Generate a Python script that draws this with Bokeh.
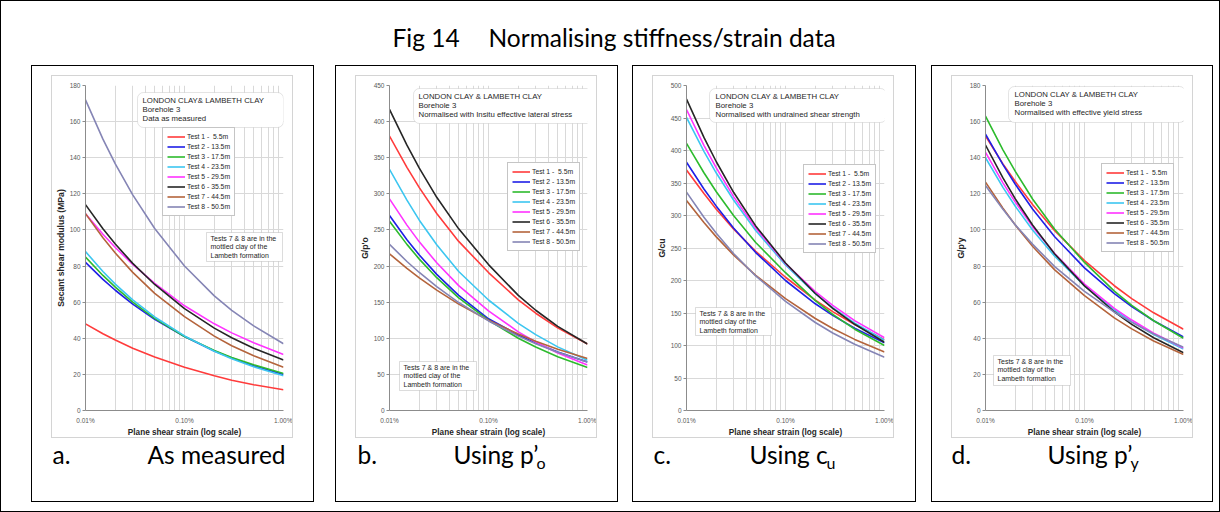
from bokeh.plotting import figure
from bokeh.models import (Range1d, FixedTicker, PrintfTickFormatter, BoxAnnotation, Label,
                          Legend, LegendItem, Spacer)
from bokeh.layouts import column, row
from bokeh.embed import file_html
from bokeh.resources import INLINE

# ---------------- data ----------------
strain_pct = [0.01, 0.015, 0.02, 0.03, 0.05, 0.1, 0.2, 0.3, 0.5, 1.0]
x_major_ticks = [0.01, 0.1, 1.0]
x_minor_ticks = [0.02, 0.03, 0.04, 0.05, 0.06, 0.07, 0.08, 0.09,
                 0.2, 0.3, 0.4, 0.5, 0.6, 0.7, 0.8, 0.9]
test_labels = ["Test 1 -  5.5m", "Test 2 - 13.5m", "Test 3 - 17.5m", "Test 4 - 23.5m",
               "Test 5 - 29.5m", "Test 6 - 35.5m", "Test 7 - 44.5m", "Test 8 - 50.5m"]

# a. as measured: secant shear modulus (MPa)
G_measured = [
    [48, 42.5, 39.0, 34.5, 29.6, 24, 19.2, 16.8, 14.3, 11.5],
    [82, 72.6, 66.6, 58.9, 50.5, 41, 33.0, 29.1, 24.8, 20],
    [85, 74.8, 68.3, 60.0, 51.0, 41, 33.3, 29.4, 25.3, 20.5],
    [88, 77.0, 70.0, 61.3, 51.8, 41.3, 32.8, 28.7, 24.2, 19.3],
    [109, 97.6, 90.3, 80.9, 70.4, 58, 48.0, 43.0, 37.5, 31],
    [114, 100.7, 92.2, 81.5, 69.8, 56.4, 45.6, 40.3, 34.5, 28],
    [109, 95.7, 87.2, 76.5, 64.9, 52, 41.2, 35.9, 30.3, 24],
    [172, 150.3, 136.6, 119.4, 100.8, 80, 63.5, 55.5, 46.9, 37],
]
# b. G / p'o
G_over_po = [
    [380, 336.7, 308.6, 272.8, 234.1, 191, 153.2, 134.7, 114.4, 92],
    [270, 236.3, 215.2, 188.5, 159.3, 127, 104.6, 93.5, 81.0, 67],
    [262, 230.0, 209.6, 183.9, 155.9, 125, 100.0, 87.8, 74.4, 59.5],
    [334, 291.2, 263.5, 229.5, 192.4, 153, 120.7, 105.1, 88.1, 69.5],
    [293, 256.7, 233.5, 204.5, 172.9, 138, 108.9, 94.8, 79.5, 63],
    [417, 367.4, 335.7, 295.2, 251.5, 202, 159.4, 138.8, 116.4, 92],
    [217, 196.8, 183.6, 166.7, 147.3, 125, 105.8, 96.0, 84.9, 72],
    [230, 206.3, 191.1, 171.6, 149.5, 124, 103.0, 92.5, 80.6, 67],
]
# c. G / cu
G_over_cu = [
    [370, 333.7, 309.7, 279.0, 244.9, 205, 169.7, 152.1, 132.4, 109],
    [382, 340.7, 314.4, 280.4, 243.0, 200, 164.2, 146.4, 126.6, 104],
    [411, 365.8, 336.6, 299.6, 258.5, 212, 169.0, 148.0, 125.1, 100],
    [451, 398.7, 365.3, 323.4, 276.9, 224, 179.9, 158.1, 134.4, 108],
    [463, 407.9, 373.2, 328.7, 280.6, 226, 182.8, 161.6, 138.3, 112],
    [479, 420.1, 382.7, 335.3, 284.0, 227, 180.0, 157.1, 132.6, 105],
    [323, 289.1, 267.1, 239.0, 208.0, 172, 141.6, 126.2, 109.4, 90],
    [336, 297.4, 272.8, 241.2, 207.0, 168, 135.4, 119.3, 101.8, 82],
]
# d. G / p'y
G_over_py = [
    [152, 136.6, 126.8, 114.0, 99.6, 83, 69.1, 62.0, 54.1, 45],
    [153, 136.2, 125.3, 111.5, 96.2, 79, 64.7, 57.6, 49.7, 40.7],
    [163, 144.4, 132.4, 117.0, 100.4, 82, 66.1, 58.2, 49.7, 40],
    [140, 123.6, 113.1, 99.8, 85.4, 69, 55.8, 49.2, 42.1, 34],
    [143, 126.1, 115.4, 101.7, 86.9, 70, 56.6, 50.1, 42.8, 34.6],
    [147, 128.8, 117.2, 102.6, 86.7, 69, 54.7, 47.7, 40.3, 32],
    [126.5, 112.1, 102.7, 90.8, 77.9, 63.6, 51.3, 45.2, 38.5, 31],
    [124.6, 111.4, 102.8, 92.0, 79.7, 66, 54.5, 48.8, 42.4, 35],
]

title_left = "Fig 14"
title_right = "Normalising stiffness/strain data"
y_titles = ["Secant shear modulus (MPa)", "G/p'o", "G/cu", "G/p'y"]
x_title = "Plane shear strain (log scale)"
info_lines = [
    ["LONDON CLAY& LAMBETH CLAY", "Borehole 3", "Data as measured"],
    ["LONDON CLAY & LAMBETH CLAY", "Borehole 3", "Normalised with Insitu effective lateral stress"],
    ["LONDON CLAY & LAMBETH CLAY", "Borehole 3", "Normalised with undrained shear strength"],
    ["LONDON CLAY & LAMBETH CLAY", "Borehole 3", "Normalised with effective yield stress"],
]
note_lines = ["Tests 7 & 8 are in the", "mottled clay of the", "Lambeth formation"]
cap_letters = ["a.", "b.", "c.", "d."]
cap_main = ["As measured", "Using p\u2019", "Using c", "Using p\u2019"]
cap_sub = ["", "o", "u", "y"]

# ---------------- styling / layout ----------------
series_colors = ["#ff3b3b", "#1f1fe6", "#2dbb2d", "#3cc6f0", "#ff33ff", "#262626", "#b4643c", "#8585b5"]
CHART_FONT = "Liberation Sans"
CAP_FONT = "Lato"
PANEL_X = [31, 335, 632, 931]        # page x of panel boxes
PANEL_W = [283, 283, 284, 282]
PANEL_Y = 65
PANEL_H = 437
TOP_GAP, LEFT_GAP = 9, 19            # inside panel (after its 1px border)
CH_W, CH_H = 242, 363                # chart canvas (inside its grey border)
CB_L, CB_R, CB_T, CB_B = 28, 11, 9, 26   # chart canvas borders around frame
FH = CH_H - CB_T - CB_B
CAP_H = PANEL_H - 2 - TOP_GAP - (CH_H + 2)
CAP_BASELINE_UP = 33                 # caption baseline above caption strip bottom
y_max = [180, 450, 500, 180]
y_step = [20, 50, 50, 20]
info_box = [(132, 95, 278, 130), (408, 91, 590, 126), (704, 91, 881, 125), (1003, 89, 1180, 125)]
info_text_x = [137, 413, 710, 1009]
note_box = [(201, 235, 277, 264), (394, 364, 471, 393), (690, 310, 766, 338), (988, 358, 1065, 388)]
legend_topleft = [(157, 132), (502, 167), (798, 169), (1096, 168)]
LEG_H = 87
cap_x = [(52, 147, None), (357, 453, 536), (653, 749, 826), (951, 1047, 1130)]


def box(l, t, r, b, fl, ft, **kw):
    # positions measured from the frame's top-left, converted to Bokeh screen units
    return BoxAnnotation(left=l - fl, right=r - fl, top=FH - (t - ft), bottom=FH - (b - ft),
                         left_units="screen", right_units="screen",
                         top_units="screen", bottom_units="screen", **kw)


def lab(text, x, y, fl, ft, **kw):
    return Label(x=x - fl, y=FH - (y - ft), x_units="screen", y_units="screen", text=text, **kw)


def make_chart(i, values):
    fl = PANEL_X[i] + 1 + LEFT_GAP + 1 + CB_L
    ft = PANEL_Y + 1 + TOP_GAP + 1 + CB_T
    p = figure(width=CH_W, height=CH_H, x_axis_type="log",
               x_range=Range1d(0.01, 1.0), y_range=Range1d(0, y_max[i]),
               output_backend="svg", toolbar_location=None,
               min_border_left=CB_L, min_border_right=CB_R,
               min_border_top=CB_T, min_border_bottom=CB_B,
               background_fill_color="white", border_fill_color="white",
               outline_line_color=None,
               styles={"border": "1px solid #d4d4d4"})
    p.xaxis.ticker = FixedTicker(ticks=x_major_ticks, minor_ticks=x_minor_ticks)
    p.xaxis.formatter = PrintfTickFormatter(format="%.2f%%")
    p.yaxis.ticker = FixedTicker(ticks=list(range(0, y_max[i] + 1, y_step[i])))
    for ax in (p.xaxis, p.yaxis):
        ax.axis_line_color = "#8c8c8c"
        ax.major_tick_line_color = "#8c8c8c"
        ax.minor_tick_line_color = None
        ax.major_tick_in = 0
        ax.major_label_text_font = CHART_FONT
        ax.major_label_text_font_size = "6.5px"
        ax.major_label_text_color = "#595959"
        ax.axis_label_text_font = CHART_FONT
        ax.axis_label_text_font_style = "bold"
        ax.axis_label_text_color = "#262626"
    p.xaxis.major_tick_out = 0
    p.xaxis.major_label_standoff = 2
    p.xaxis.axis_label = x_title
    p.xaxis.axis_label_text_font_size = "8.2px"
    p.xaxis.axis_label_standoff = 1
    p.yaxis.major_tick_out = 3
    p.yaxis.major_label_standoff = 2
    p.yaxis.axis_label = y_titles[i]
    p.yaxis.axis_label_text_font_size = "8.6px"
    p.yaxis.axis_label_standoff = 1
    p.xgrid.grid_line_color = "#d9d9d9"
    p.xgrid.minor_grid_line_color = "#d9d9d9"
    p.ygrid.grid_line_color = "#d9d9d9"

    renderers = []
    for k in range(8):
        r = p.line(strain_pct, values[k], line_color=series_colors[k], line_width=1.6)
        renderers.append(r)

    # info box
    l, t, r_, b = info_box[i]
    p.add_layout(box(l, t, r_, b, fl, ft, fill_color="white", fill_alpha=1,
                     line_color="#a6a6a6", line_width=1, border_radius=6))
    for j, txt in enumerate(info_lines[i]):
        p.add_layout(lab(txt, info_text_x[i], t + 8 + 9 * j, fl, ft, text_font=CHART_FONT,
                         text_font_size="7.8px", text_color="#262626", text_baseline="middle"))
    # note box
    l, t, r_, b = note_box[i]
    p.add_layout(box(l, t, r_, b, fl, ft, fill_color="white", fill_alpha=1,
                     line_color="#8c8c8c", line_width=1))
    for j, txt in enumerate(note_lines):
        p.add_layout(lab(txt, l + 4, t + 5.5 + 8.5 * j, fl, ft, text_font=CHART_FONT,
                         text_font_size="7px", text_color="#262626", text_baseline="middle"))

    # legend
    lx, ly = legend_topleft[i]
    leg = Legend(items=[LegendItem(label=test_labels[k], renderers=[renderers[k]]) for k in range(8)],
                 location=(lx - fl, FH - (ly + LEG_H - ft)), orientation="vertical",
                 margin=0, padding=4, spacing=1, glyph_width=18, glyph_height=9,
                 label_height=9, label_standoff=2, label_text_font=CHART_FONT,
                 label_text_font_size="6.8px", label_text_color="#262626",
                 border_line_color="#8c8c8c", border_line_width=1,
                 background_fill_color="white", background_fill_alpha=1)
    p.add_layout(leg)
    return p


def make_caption(i):
    w = PANEL_W[i] - 2
    ox = PANEL_X[i] + 1
    c = figure(width=w, height=CAP_H, x_range=Range1d(0, 1), y_range=Range1d(0, 1),
               x_axis_location=None, y_axis_location=None, output_backend="svg",
               toolbar_location=None, min_border=0, outline_line_color=None)
    c.xgrid.visible = False
    c.ygrid.visible = False
    x_letter, x_main, x_sub = cap_x[i]
    c.add_layout(Label(x=x_letter - ox, y=CAP_BASELINE_UP, x_units="screen", y_units="screen",
                       text=cap_letters[i], text_font=CAP_FONT, text_font_size="24.5px",
                       text_color="black"))
    c.add_layout(Label(x=x_main - ox, y=CAP_BASELINE_UP, x_units="screen", y_units="screen",
                       text=cap_main[i], text_font=CAP_FONT, text_font_size="24.5px",
                       text_color="black"))
    if cap_sub[i]:
        c.add_layout(Label(x=x_sub - ox, y=CAP_BASELINE_UP - 3, x_units="screen", y_units="screen",
                           text=cap_sub[i], text_font=CAP_FONT, text_font_size="16px",
                           text_color="black"))
    return c


def make_panel(i, values):
    w = PANEL_W[i] - 2
    chart = make_chart(i, values)
    cap = make_caption(i)
    inner = column(Spacer(width=w, height=TOP_GAP),
                   row(Spacer(width=LEFT_GAP, height=CH_H + 2), chart,
                       Spacer(width=w - LEFT_GAP - CH_W - 2, height=CH_H + 2)),
                   cap, styles={"border": "1px solid black"})
    return inner


# title strip
tp = figure(width=1218, height=64, x_range=Range1d(0, 1), y_range=Range1d(0, 1),
            x_axis_location=None, y_axis_location=None, output_backend="svg",
            toolbar_location=None, min_border=0, outline_line_color=None)
tp.xgrid.visible = False
tp.ygrid.visible = False
tp.add_layout(Label(x=391, y=14, x_units="screen", y_units="screen", text=title_left,
                    text_font=CAP_FONT, text_font_size="24.5px", text_color="black"))
tp.add_layout(Label(x=487, y=14, x_units="screen", y_units="screen", text=title_right,
                    text_font=CAP_FONT, text_font_size="24.5px", text_color="black"))

panels = [make_panel(i, v) for i, v in enumerate([G_measured, G_over_po, G_over_cu, G_over_py])]

panel_row = row(Spacer(width=30, height=PANEL_H), panels[0], Spacer(width=21, height=PANEL_H),
                panels[1], Spacer(width=14, height=PANEL_H), panels[2],
                Spacer(width=15, height=PANEL_H), panels[3], Spacer(width=6, height=PANEL_H))
layout = column(tp, panel_row, Spacer(width=1218, height=9),
                styles={"border": "1px solid black"})

open("out.html", "w").write(file_html(layout, INLINE))
